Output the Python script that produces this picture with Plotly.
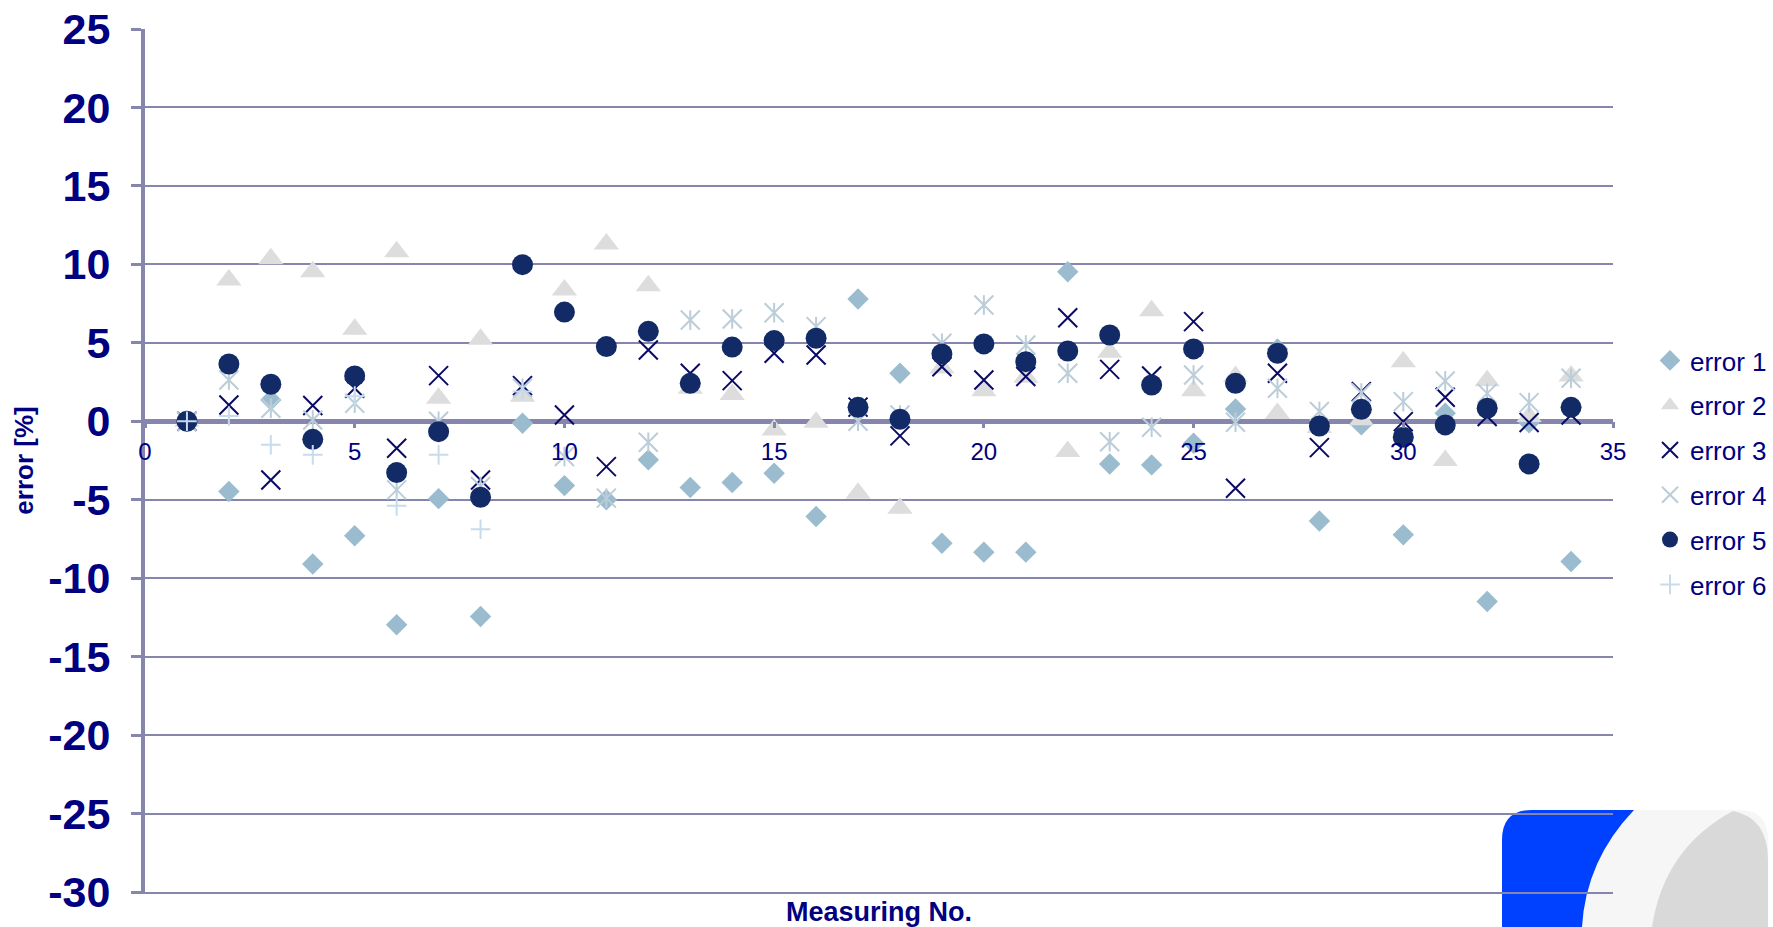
import plotly.graph_objects as go

# ---------------- data ----------------
measuring_no = list(range(1, 35))

error_1 = [0, -4.48, 1.36, -9.1, -7.3, -12.97, -4.93, -12.44, -0.13, -4.1,
           -5.0, -2.46, -4.22, -3.9, -3.31, -6.07, 7.79, 3.06, -7.77, -8.34,
           -8.34, 9.53, -2.72, -2.78, -1.4, 0.79, 4.6, -6.35, -0.23, -7.24,
           0.51, -11.49, -0.1, -8.94]
error_2 = [0, 9.0, 10.36, 9.53, 5.86, 10.8, 1.46, 5.22, 1.6, 8.37,
           11.3, 8.64, 2.1, 1.7, -0.55, -0.06, -4.59, -5.54, 3.4, 1.95,
           2.8, -1.93, 4.4, 7.05, 1.95, 2.85, 0.5, -0.4, 0.1, 3.8,
           -2.5, 2.59, 0.3, 2.89]
error_3 = [0, 1.04, -3.74, 1.0, 2.1, -1.72, 2.91, -3.74, 2.27, 0.4,
           -2.89, 4.54, 3.06, 2.59, 4.33, 4.22, 0.9, -0.93, 3.48, 2.63,
           2.85, 6.6, 3.31, 2.89, 6.35, -4.27, 3.06, -1.68, 1.89, -0.02,
           1.53, 0.3, -0.08, 0.4]
error_4 = [0, 2.63, 0.83, 0.08, 1.15, -4.37, 0.0, -4.16, 2.1, -2.25,
           -4.9, -1.34, 6.45, 6.52, 6.92, 6.03, 0.0, 0.4, 4.97, 7.41,
           4.86, 3.06, -1.3, -0.38, 2.95, -0.06, 2.1, 0.62, 1.8, 1.25,
           2.57, 1.78, 1.19, 2.74]
error_5 = [0, 3.65, 2.36, -1.15, 2.89, -3.27, -0.66, -4.84, 9.98, 6.96,
           4.76, 5.73, 2.42, 4.73, 5.14, 5.29, 0.89, 0.13, 4.29, 4.93,
           3.8, 4.48, 5.5, 2.31, 4.61, 2.42, 4.33, -0.3, 0.76, -1.02,
           -0.23, 0.83, -2.72, 0.89]
error_6 = [0, 0.34, -1.5, -2.14, 1.6, -5.39, -2.14, -6.88, 1.9] + [None] * 25

series_names = ["error 1", "error 2", "error 3", "error 4", "error 5", "error 6"]

y_ticks = [25, 20, 15, 10, 5, 0, -5, -10, -15, -20, -25, -30]
x_ticks = [0, 5, 10, 15, 20, 25, 30, 35]

# ---------------- style ----------------
NAVY = "#000080"
AXIS = "#8585AD"
FONT = "Liberation Sans, Arial, sans-serif"
W, H = 1773, 927
ML, MR, MT, MB = 145, 160, 29, 35

fig = go.Figure()

def add(y, name, symbol, color, size, lw=0, group=None, showlegend=True):
    fig.add_trace(go.Scatter(
        x=measuring_no, y=y, name=name, mode="markers",
        legendgroup=group or name, showlegend=showlegend,
        marker=dict(symbol=symbol, size=size, color=color,
                    line=dict(width=lw, color=color)),
        hoverinfo="skip"))

add(error_1, series_names[0], "diamond", "#9BBBCE", 16.5)
add(error_2, series_names[1], "triangle-up", "#DDDDDD", 22)
add(error_3, series_names[2], "x-thin-open", "#0A0A66", 19, lw=2)
add(error_4, series_names[3], "x-thin-open", "#BBCDD9", 19, lw=2)
add(error_4, series_names[3], "line-ns-open", "#BBCDD9", 14, lw=2,
    group=series_names[3], showlegend=False)
add(error_5, series_names[4], "circle", "#122B67", 21)
add(error_6, series_names[5], "cross-thin-open", "#C6DCEC", 14, lw=2)

# empty trace to register the free x axis placed at y = 0
fig.add_trace(go.Scatter(x=[], y=[], xaxis="x2", showlegend=False, hoverinfo="skip"))

# ---------------- logo (decoration, pixel -> paper) ----------------
pw, ph = W - ML - MR, H - MT - MB
def P(px, py):
    return f"{(px - ML) / pw:.5f},{(H - MB - py) / ph:.5f}"

light = (f"M{P(1634,810)} L{P(1740,810)} Q{P(1768,810)} {P(1768,840)} "
         f"L{P(1768,927)} L{P(1582,927)} Q{P(1586,860)} {P(1634,810)} Z")
dark = (f"M{P(1733,811)} Q{P(1768,818)} {P(1768,860)} L{P(1768,927)} "
        f"L{P(1652,927)} Q{P(1664,848)} {P(1733,811)} Z")
blue = (f"M{P(1502,927)} L{P(1502,840)} Q{P(1502,810)} {P(1532,810)} "
        f"L{P(1634,810)} Q{P(1586,860)} {P(1582,927)} Z")
shapes = [
    dict(type="path", path=light, xref="paper", yref="paper",
         fillcolor="#F6F6F6", line=dict(width=0), layer="below"),
    dict(type="path", path=dark, xref="paper", yref="paper",
         fillcolor="#D9D9D9", line=dict(width=0), layer="below"),
    dict(type="path", path=blue, xref="paper", yref="paper",
         fillcolor="#0040FF", line=dict(width=0), layer="below"),
]

fig.update_layout(
    width=W, height=H, autosize=False,
    margin=dict(l=ML, r=MR, t=MT, b=MB, pad=0, autoexpand=False),
    paper_bgcolor="white", plot_bgcolor="white",
    font=dict(family=FONT, color=NAVY),
    shapes=shapes,
    xaxis=dict(range=[0, 35], showticklabels=False, ticks="", showgrid=False,
               zeroline=False, showline=True, linecolor=AXIS, linewidth=2,
               automargin=False,
               title=dict(text="Measuring No.", standoff=11,
                          font=dict(size=27, weight="bold", color=NAVY, family=FONT))),
    xaxis2=dict(range=[0, 35], overlaying="x", anchor="free", position=30 / 55,
                side="bottom", tickvals=x_ticks, ticktext=[str(v) for v in x_ticks],
                ticks="outside", ticklen=6, tickwidth=3, tickcolor=AXIS,
                showgrid=False, zeroline=False, showline=False,
                ticklabelstandoff=3, automargin=False,
                tickfont=dict(size=24, color=NAVY, family=FONT)),
    yaxis=dict(range=[-30, 25], tickvals=y_ticks, ticktext=[str(v) for v in y_ticks],
               ticks="outside", ticklen=10, tickwidth=3, tickcolor=AXIS,
               showline=True, linecolor=AXIS, linewidth=4,
               showgrid=True, gridcolor=AXIS, gridwidth=2,
               zeroline=True, zerolinecolor=AXIS, zerolinewidth=5,
               ticklabelstandoff=12, automargin=False,
               tickfont=dict(size=43, weight="bold", color=NAVY, family=FONT)),
    legend=dict(x=(1650 - ML) / pw, xanchor="left", y=(H - MB - 337) / ph, yanchor="top",
                font=dict(size=26, color=NAVY, family=FONT),
                bgcolor="rgba(0,0,0,0)", tracegroupgap=8, itemsizing="trace"),
)
fig.update_yaxes(title=dict(text="error [%]", standoff=8,
                            font=dict(size=26, weight="bold", color=NAVY, family=FONT)))

fig.write_html("out.html", config={"displayModeBar": False},
               post_script="document.body.style.margin='0';document.body.style.overflow='hidden';")
